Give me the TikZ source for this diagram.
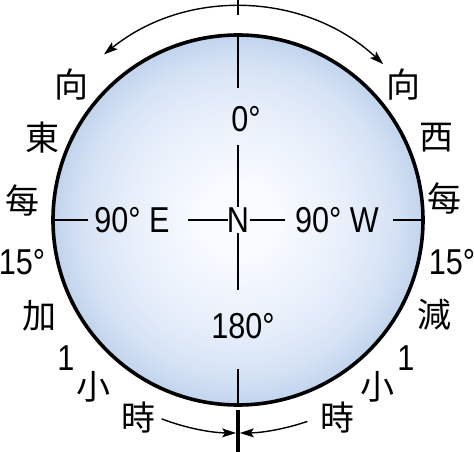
\documentclass[tikz,border=0pt]{standalone}
\usepackage{fontspec}
\setmainfont{Liberation Sans}[FakeStretch=0.85]
\newfontfamily\cjk{Noto Sans CJK TC}
\usetikzlibrary{arrows.meta}
\definecolor{edgeblue}{RGB}{193,212,237}
\definecolor{ringblue}{RGB}{214,227,245}
\definecolor{halfblue}{RGB}{233,240,251}
\definecolor{midblue}{RGB}{248,251,255}
\pgfdeclareradialshading{globeshade}{\pgfpoint{0bp}{0bp}}{%
  color(0bp)=(midblue); color(5bp)=(midblue); color(14bp)=(halfblue); color(21bp)=(ringblue);
  color(25bp)=(edgeblue); color(50bp)=(edgeblue)}
\begin{document}
\begin{tikzpicture}[x=1pt,y=1pt,
  han/.style={inner sep=0pt, font=\cjk\fontsize{34}{34}\selectfont},
  num/.style={inner sep=0pt, font=\fontsize{36}{36}\selectfont},
  axis/.style={line width=1.4pt},
  tipa/.tip={Stealth[length=14pt,width=9pt,inset=3pt]},
  turn/.style={line width=1.4pt, -tipa},
]
\useasboundingbox (-238,-232) rectangle (236,220);
% globe
\node[circle, minimum size=370pt, inner sep=0pt, outer sep=0pt,
      shading=globeshade] (globe) at (0,0) {};
% centre labels
\node[num] (N) at (0,0) {N};
\node[num] (zero) at (8,101) {0°};
\node[num] (oneeighty) at (5,-106) {180°};
\node[num] (east) at (-106,0) {90° E};
\node[num] (west) at (99,0) {90° W};
% axis segment ends
\coordinate (v1) at (0,132);
\coordinate (v2) at (0,75);
\coordinate (v3) at (0,13);
\coordinate (v4) at (0,-13);
\coordinate (v5) at (0,-70);
\coordinate (v6) at (0,-149);
\coordinate (h1) at (-150,0);
\coordinate (h2) at (-50,0);
\coordinate (h3) at (-10,0);
\coordinate (h4) at (12,0);
\coordinate (h5) at (47,0);
\coordinate (h6) at (155,0);
\draw[axis] (globe.north) -- (v1);
\draw[axis] (v2) -- (v3);
\draw[axis] (v4) -- (v5);
\draw[axis] (v6) -- (globe.south);
\draw[axis] (globe.west) -- (h1);
\draw[axis] (h2) -- (h3);
\draw[axis] (h4) -- (h5);
\draw[axis] (h6) -- (globe.east);
% globe border
\draw[line width=3.6pt] (globe.center) circle[radius=185];
% top tick and arc
\coordinate (tt1) at (0,220);
\coordinate (tt2) at (0,205);
\draw[axis] (tt1) -- (tt2);
\draw[line width=1.4pt, tipa-tipa] (129:213) arc[start angle=129, end angle=47, radius=213];
% bottom tick and arrows
\coordinate (bt1) at (0,-190);
\coordinate (bt2) at (0,-232);
\draw[line width=3.5pt] (bt1) -- (bt2);
\draw[turn] (-111:213) arc[start angle=-111, end angle=-90.5, radius=213];
\draw[turn] (-71:213) arc[start angle=-71, end angle=-89.5, radius=213];
% left column
\node[han] (l1) at (-166,135) {向};
\node[han] (l2) at (-195,82) {東};
\node[han] (l3) at (-215,20) {每};
\node[num] (l4) at (-216,-42) {15°};
\node[han] (l5) at (-198,-96) {加};
\node[num] (l6) at (-172,-138) {1};
\node[han] (l7) at (-144,-167) {小};
\node[han] (l8) at (-99,-198) {時};
% right column
\node[han] (r1) at (165,135) {向};
\node[han] (r2) at (198,82) {西};
\node[han] (r3) at (206,22) {每};
\node[num] (r4) at (214,-42) {15°};
\node[han] (r5) at (196,-95) {減};
\node[num] (r6) at (168,-138) {1};
\node[han] (r7) at (139,-167) {小};
\node[han] (r8) at (99,-198) {時};
\end{tikzpicture}
\end{document}
